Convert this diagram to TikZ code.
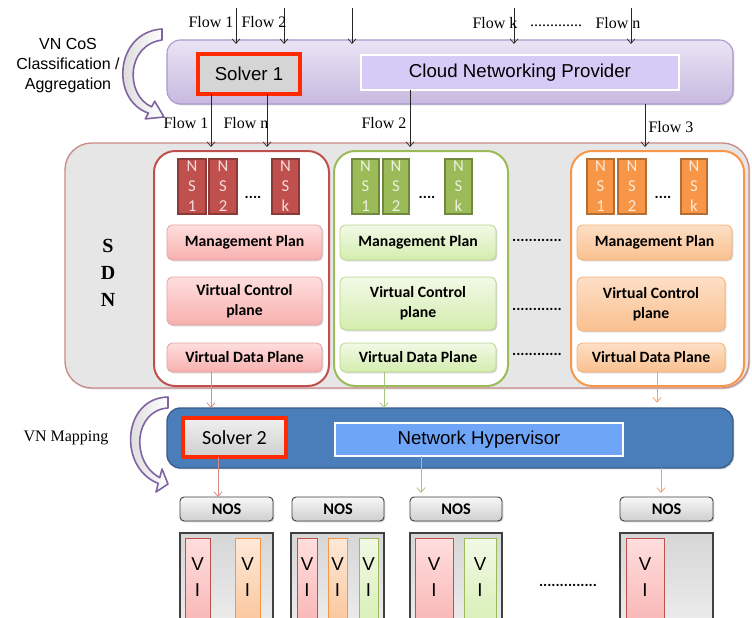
\documentclass[tikz,border=0pt]{standalone}
\usepackage{fontspec}
\setmainfont{Liberation Serif}
\newfontfamily\arialf{Liberation Sans}
\newfontfamily\calf{Carlito}
\usetikzlibrary{arrows.meta,shadows}
\definecolor{bandT}{HTML}{EBE4F5}
\definecolor{bandB}{HTML}{C7B9DF}
\definecolor{bandE}{HTML}{A899CC}
\definecolor{cnpF}{HTML}{D5CBF6}
\definecolor{solRed}{HTML}{FF2A00}
\definecolor{sdnF}{HTML}{E6E6E6}
\definecolor{sdnE}{HTML}{C98A87}
\definecolor{cR}{HTML}{C0504D}
\definecolor{cRd}{HTML}{8C3A38}
\definecolor{cG}{HTML}{9BBB59}
\definecolor{cGd}{HTML}{71893F}
\definecolor{cO}{HTML}{F79646}
\definecolor{cOd}{HTML}{B66D31}
\definecolor{pRt}{HTML}{FFDEDE}
\definecolor{pRb}{HTML}{F7B0AE}
\definecolor{pRe}{HTML}{E5A3A1}
\definecolor{pGt}{HTML}{F2F9E6}
\definecolor{pGb}{HTML}{D4EDAE}
\definecolor{pGe}{HTML}{B9D68C}
\definecolor{pOt}{HTML}{FDDFC6}
\definecolor{pOb}{HTML}{FAC08F}
\definecolor{pOe}{HTML}{F5B27A}
\definecolor{hvF}{HTML}{4A7EBB}
\definecolor{hvE}{HTML}{385D8A}
\definecolor{nhF}{HTML}{6FA5F7}
\definecolor{arcP}{HTML}{8064A2}
\definecolor{arR}{HTML}{D98A87}
\definecolor{arG}{HTML}{A9C47F}
\definecolor{arO}{HTML}{F5A26A}
\definecolor{nsR}{HTML}{F2DCDB}
\definecolor{nsG}{HTML}{EBF1DE}
\definecolor{nsO}{HTML}{FDE9D9}
\newcommand\bx[7]{\node[#6, minimum width={(#4-#2)*0.75pt}, minimum height={(#5-#3)*0.75pt}] (#1) at ({(#2+#4)/2},{(#3+#5)/2}) {#7};}
\begin{document}
\begin{tikzpicture}[x=0.75pt,y=-0.75pt,
  every node/.style={inner sep=0pt,outer sep=0pt,align=center},
  shad/.style={drop shadow={shadow xshift=1pt,shadow yshift=-1pt,opacity=0.3}},
  flowarr/.style={draw=black!85,line width=0.5pt,-{Straight Barb[length=3.5pt,width=6pt]}},
  colarr/.style={draw=#1,line width=0.6pt,-{Straight Barb[length=3.5pt,width=6pt]}},
  flowtxt/.style={font=\fontsize{12}{14}\selectfont},
  nsbox/.style 2 args={fill=#1,draw=#2,line width=1pt,text=white,font=\calf\fontsize{12.5}{15}\selectfont},
  plane/.style n args={3}{top color=#1,bottom color=#2,draw=#3,line width=0.6pt,rounded corners=4pt,shad,font=\calf\bfseries\fontsize{11.8}{15}\selectfont},
  colbox/.style={fill=white,draw=#1,line width=1.5pt,rounded corners=16pt},
  nos/.style={top color=gray!6,bottom color=gray!38,draw=black!75,line width=0.7pt,rounded corners=3pt,shad,font=\calf\bfseries\fontsize{12.2}{14}\selectfont},
  server/.style={top color=gray!32,bottom color=gray!12,draw=black!75,line width=0.8pt},
  vi/.style n args={3}{top color=#1,bottom color=#2,draw=#3,line width=0.7pt},
  vitxt/.style={font=\arialf\fontsize{14}{19}\selectfont},
  dots/.style={font=\calf\bfseries\fontsize{11.6}{14}\selectfont}
]
\useasboundingbox (0,0) rectangle (752,617);
\clip (0,0) rectangle (752,617);
\fill[white] (0,0) rectangle (752,617);

% ---------- curved block arrows ----------
\draw[arcP,line width=1.2pt,left color=gray!35,right color=white,line join=round]
  (162,29) .. controls (115,32) and (110,100) .. (148.4,113.1) -- (145.3,118.9) -- (164,117)
  -- (154.7,101.2) -- (151.6,106.9) .. controls (125,95) and (126,45) .. (162,40) -- cycle;
\draw[arcP,line width=1.2pt,left color=gray!35,right color=white,line join=round]
  (168,397) .. controls (122,398) and (118,468) .. (158.25,483.4) -- (156,492) -- (168,484)
  -- (162,469) -- (159.75,477.6) .. controls (130,462) and (134,410) .. (168,408) -- cycle;

\node[font=\arialf\fontsize{12}{15}\selectfont] (cos) at (68,66) {VN CoS\\Classification /\\Aggregation};
\node[font=\fontsize{12}{14}\selectfont] (vnm) at (66,438) {VN Mapping};

% ---------- cloud provider band ----------
\bx{cloud}{167}{40}{733}{104}{top color=bandT,bottom color=bandB,draw=bandE,line width=0.8pt,rounded corners=10pt,shad}{}
\bx{solverA}{198}{54}{300}{94}{fill=gray!33,draw=solRed,line width=2.3pt,font=\arialf\fontsize{14}{16}\selectfont}{Solver 1}
\bx{cnp}{361}{55}{679}{90}{fill=cnpF,draw=white,line width=2pt,font=\arialf\fontsize{14}{16}\selectfont}{Cloud Networking Provider}

% top incoming flows
\coordinate (t1) at (236,8); \coordinate (t2) at (284,8); \coordinate (t3) at (352,8);
\coordinate (t4) at (514,8); \coordinate (t5) at (631,8);
\foreach \c in {t1,t2,t3,t4,t5} \draw[flowarr,shorten >=-3pt] (\c) -- (\c |- cloud.north);
\node[flowtxt] (lf1) at (211,22) {Flow 1};
\node[flowtxt] (lf2) at (264,22) {Flow 2};
\node[flowtxt] (lfk) at (495,23) {Flow k};
\node[flowtxt] (ldt) at (556,26) {.............};
\node[flowtxt] (lfn) at (618,23) {Flow n};

% ---------- SDN ----------
\bx{sdn}{65}{143}{749}{388}{fill=sdnF,draw=sdnE,line width=1pt,rounded corners=20pt,shad}{}
\node[font=\bfseries\fontsize{15}{20}\selectfont] (sdnl) at (108,273) {S\\D\\N};

\bx{colR}{154}{151}{329}{386}{colbox=cR}{}
\bx{colG}{334}{151}{508}{386}{colbox=cG}{}
\bx{colO}{571}{151}{744}{386}{colbox=cO}{}

% outgoing flows from provider
\coordinate (b1) at (211,147); \coordinate (b2) at (267,147);
\coordinate (b3) at (410,147); \coordinate (b4) at (645,147);
\draw[flowarr] (b1 |- solverA.south) -- (b1);
\draw[flowarr] (b2 |- solverA.south) -- (b2);
\draw[flowarr] (b3 |- cnp.south) -- (b3);
\draw[flowarr] (b4 |- cloud.south) -- (b4);
\node[flowtxt] (lb1) at (186,123) {Flow 1};
\node[flowtxt] (lbn) at (246,123) {Flow n};
\node[flowtxt] (lb2) at (384,123) {Flow 2};
\node[flowtxt] (lb3) at (671,127) {Flow 3};

% NS boxes
\bx{nsR1}{178}{159}{206}{214}{nsbox={cR}{cRd},text=nsR}{N\\S\\1}
\bx{nsR2}{209}{159}{237}{214}{nsbox={cR}{cRd},text=nsR}{N\\S\\2}
\bx{nsRk}{272}{159}{299}{214}{nsbox={cR}{cRd},text=nsR}{N\\S\\k}
\node[dots] (dR) at (253,197) {....};
\bx{nsG1}{352}{159}{379}{214}{nsbox={cG}{cGd},text=nsG}{N\\S\\1}
\bx{nsG2}{383}{159}{409}{214}{nsbox={cG}{cGd},text=nsG}{N\\S\\2}
\bx{nsGk}{445}{159}{472}{214}{nsbox={cG}{cGd},text=nsG}{N\\S\\k}
\node[dots] (dG) at (427,197) {....};
\bx{nsO1}{587}{159}{614}{214}{nsbox={cO}{cOd},text=nsO}{N\\S\\1}
\bx{nsO2}{618}{159}{646}{214}{nsbox={cO}{cOd},text=nsO}{N\\S\\2}
\bx{nsOk}{681}{159}{707}{214}{nsbox={cO}{cOd},text=nsO}{N\\S\\k}
\node[dots] (dO) at (663,197) {....};

% planes
\bx{mpR}{167}{225}{322}{260}{plane={pRt}{pRb}{pRe}}{Management Plan}
\bx{vcR}{167}{277}{322}{325}{plane={pRt}{pRb}{pRe}}{Virtual Control\\plane}
\bx{vdR}{167}{343}{322}{372}{plane={pRt}{pRb}{pRe}}{Virtual Data Plane}
\bx{mpG}{340}{225}{496}{260}{plane={pGt}{pGb}{pGe}}{Management Plan}
\bx{vcG}{340}{277}{496}{330}{plane={pGt}{pGb}{pGe}}{Virtual Control\\plane}
\bx{vdG}{340}{343}{496}{372}{plane={pGt}{pGb}{pGe}}{Virtual Data Plane}
\bx{mpO}{577}{225}{732}{260}{plane={pOt}{pOb}{pOe}}{Management Plan}
\bx{vcO}{577}{277}{725}{331}{plane={pOt}{pOb}{pOe}}{Virtual Control\\plane}
\bx{vdO}{577}{343}{725}{372}{plane={pOt}{pOb}{pOe}}{Virtual Data Plane}
\node[dots] (d1) at (537,240) {............};
\node[dots] (d2) at (537,309) {............};
\node[dots] (d3) at (537,354) {............};

% ---------- hypervisor band ----------
\bx{hyper}{167}{408}{733}{468}{fill=hvF,draw=hvE,line width=1pt,rounded corners=10pt,shad}{}
\bx{solverB}{183}{418}{286}{457}{top color=gray!12,bottom color=gray!38,draw=solRed,line width=2.3pt,font=\calf\fontsize{15}{17}\selectfont}{Solver 2}
\bx{nh}{335}{423}{623}{456}{fill=nhF,draw=white,line width=2pt,font=\arialf\fontsize{14}{16}\selectfont}{Network Hypervisor}

\coordinate (x1) at (211,0); \coordinate (x2) at (384,0); \coordinate (x3) at (657,0);
\draw[colarr=arR] (x1 |- vdR.south) -- (x1 |- hyper.north);
\draw[colarr=arG] (x2 |- vdG.south) -- (x2 |- hyper.north);
\draw[colarr=arO] (x3 |- vdO.south) -- ([yshift=4pt]x3 |- hyper.north);

% ---------- NOS and servers ----------
\bx{nos1}{180}{497}{273}{521}{nos}{NOS}
\bx{nos2}{292}{497}{384}{521}{nos}{NOS}
\bx{nos3}{410}{497}{502}{521}{nos}{NOS}
\bx{nos4}{620}{497}{713}{521}{nos}{NOS}

\coordinate (y1) at (218,0); \coordinate (y2) at (421,0); \coordinate (y3) at (661,0);
\draw[colarr=arR] (y1 |- solverB.south) -- (y1 |- nos1.north);
\draw[colarr=arG] (y2 |- nh.south) -- ([yshift=3pt]y2 |- nos3.north);
\draw[colarr=arO] (y3 |- hyper.south) -- ([yshift=3pt]y3 |- nos4.north);

\bx{srv1}{180}{533}{273}{640}{server}{}
\bx{srv2}{291}{533}{384}{640}{server}{}
\bx{srv3}{410}{533}{502}{640}{server}{}
\bx{srv4}{620}{533}{713}{640}{server}{}

\bx{vi1a}{185}{538}{210}{640}{vi={pRt}{pRb}{cR}}{}
\bx{vi1b}{235}{538}{260}{640}{vi={nsO}{pOb}{cO}}{}
\bx{vi2a}{297}{538}{317}{640}{vi={pRt}{pRb}{cR}}{}
\bx{vi2b}{328}{538}{347}{640}{vi={nsO}{pOb}{cO}}{}
\bx{vi2c}{359}{538}{378}{640}{vi={pGt}{pGb}{cG}}{}
\bx{vi3a}{415}{538}{453}{640}{vi={pRt}{pRb}{cR}}{}
\bx{vi3b}{464}{538}{496}{640}{vi={pGt}{pGb}{cG}}{}
\bx{vi4a}{626}{538}{664}{640}{vi={pRt}{pRb}{cR}}{}
\foreach \v in {vi1a,vi1b,vi2a,vi2b,vi2c,vi3a,vi3b,vi4a}
  \node[vitxt] at (\v |- 0,577) {V\\I};
\node[dots] (d4) at (568,585) {..............};
\end{tikzpicture}
\end{document}
